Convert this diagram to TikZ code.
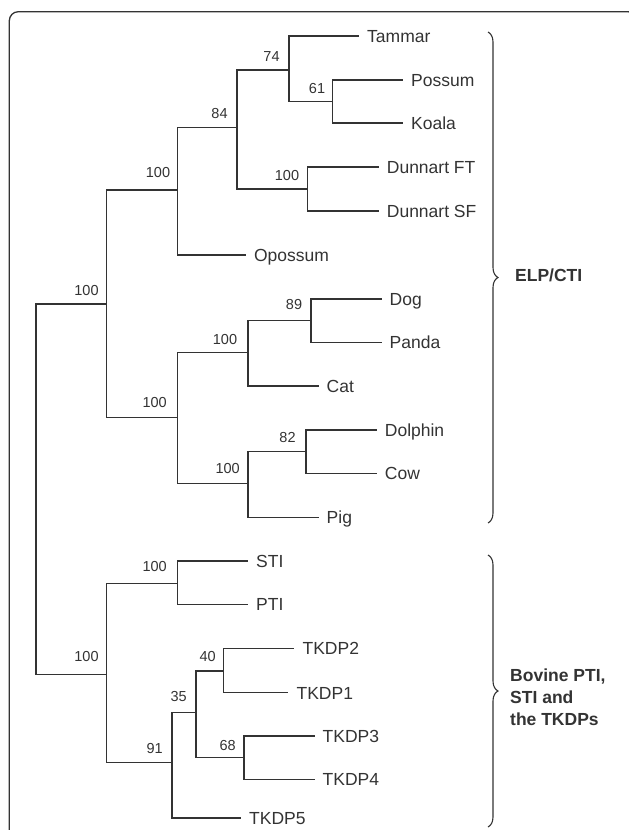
\documentclass[tikz,border=0pt]{standalone}
\usepackage{fontspec}
\setmainfont{Liberation Sans}
\usetikzlibrary{decorations.pathreplacing}
\definecolor{ink}{HTML}{333333}
\tikzset{
    branch/.style={ink, line width=1.1pt},
    leaf/.style={anchor=west, inner xsep=8pt, inner ysep=0pt, text height=13pt, text depth=0pt,
        text=ink, font=\fontsize{17.5}{21}\selectfont},
    boot/.style={text=ink, inner sep=0pt, font=\fontsize{14.5}{17}\selectfont},
    clade/.style={ink, line width=1.1pt, decorate, decoration={brace, amplitude=10pt}},
    cladename/.style={anchor=west, align=left, inner sep=0pt, text=ink,
        font=\fontsize{17.5}{22}\selectfont\bfseries},
}
\begin{document}
\begin{tikzpicture}[x=1pt, y=-1pt]
    \useasboundingbox (0,0) rectangle (629,830);
    % Frame
    \draw[ink, line width=1.3pt, rounded corners=9pt] (9.3,11.7) rectangle (637,860);

    % Internal nodes
    \foreach \n/\x/\y in {root/36/489, top/106.4/304, mars/177.5/190, n84/237/127.7,
        n74/289/70, n61/332.5/101.7, dunn/307.6/189, euth/177.5/417.7, carn/248/352.7,
        n89/311/320.7, cet/248/483.3, n82/306/451.7, bot/106.4/674.3, sp/177.5/583.3,
        n91/172/762.7, n35/196/712.7, n40/223.7/671, n68/244/757.7} {
        \coordinate (\n) at (\x,\y);
    }

    % Leaves
    \foreach \n/\x/\y/\t in {tammar/359/36/Tammar, possum/403/80/Possum, koala/403/123/Koala,
        dunft/378.7/167/Dunnart FT, dunsf/378.7/211/Dunnart SF, opossum/245.8/255/Opossum,
        dog/381.5/299/Dog, panda/381.5/342.3/Panda, cat/318.5/386/Cat,
        dolphin/376.7/430/Dolphin, cow/376.7/473.3/Cow, pig/318.5/517.3/Pig,
        sti/248/561/STI, pti/248/604.3/PTI, tkdp2/294.4/648.3/TKDP2, tkdp1/288.4/692.7/TKDP1,
        tkdp3/314.5/736/TKDP3, tkdp4/314.5/779.3/TKDP4, tkdp5/241/818/TKDP5} {
        \node[leaf] (\n) at (\x,\y) {\t};
    }

    % Branches
    \foreach \a/\b in {root/top, root/bot, top/mars, top/euth, mars/n84, mars/opossum,
        n84/n74, n84/dunn, n74/tammar, n74/n61, n61/possum, n61/koala, dunn/dunft, dunn/dunsf,
        euth/carn, euth/cet, carn/n89, carn/cat, n89/dog, n89/panda, cet/n82, cet/pig,
        n82/dolphin, n82/cow, bot/sp, bot/n91, sp/sti, sp/pti, n91/n35, n91/tkdp5,
        n35/n40, n35/n68, n40/tkdp2, n40/tkdp1, n68/tkdp3, n68/tkdp4} {
        \draw[branch] (\a) |- (\b);
    }

    % Bootstrap values
    \foreach \v/\x/\y [count=\i] in {74/271.5/57, 61/317/89, 84/219.5/113.3, 100/287/176,
        100/158/173, 100/86.5/291, 89/294/305, 100/225/340, 100/154.6/403, 82/287.5/437.7,
        100/227.7/469, 100/154.6/567, 100/86.5/656.7, 40/207.6/656.7, 35/178.7/696.7,
        68/227.7/745, 91/154.6/748.3} {
        \node[boot] (boot\i) at (\x,\y) {\v};
    }

    % Clades
    \coordinate (elptop) at (488,32);
    \coordinate (elpbot) at (488,523);
    \coordinate (bovtop) at (488,555);
    \coordinate (bovbot) at (488,827);
    \draw[clade] (elptop) -- (elpbot);
    \draw[clade] (bovtop) -- (bovbot);
    \node[cladename] (elp) at (515,275) {ELP/CTI};
    \node[cladename] (bov) at (510,697) {Bovine PTI,\\STI and\\the TKDPs};
\end{tikzpicture}
\end{document}
